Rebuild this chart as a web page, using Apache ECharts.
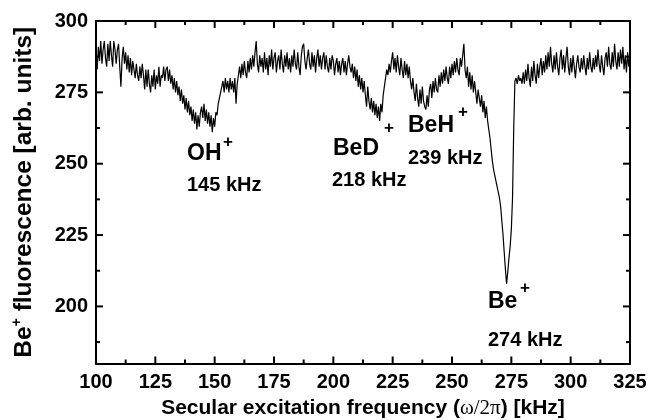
<!DOCTYPE html>
<html>
<head>
<meta charset="utf-8">
<script src="https://cdn.jsdelivr.net/npm/echarts@6/dist/echarts.min.js"></script>
<style>
	html, body { margin: 0; padding: 0; background: #fff; }
	#chart { width: 651px; height: 420px; }
</style>
</head>
<body>
<div id="chart"></div>
<script>
// scan: 100 .. 325 kHz in 0.5 kHz steps
var freqStart = 100,
	freqStep = 0.5;

// Be+ fluorescence, one row = 10 kHz
var fluorescence = [
	289, 283, 291, 286, 293, 285, 290, 293, 287, 284, 292, 286, 293, 288, 284, 293, 290, 285, 290, 292, // 100
	284, 277, 287, 291, 285, 289, 283, 288, 282, 287, 281, 286, 283, 280, 285, 281, 279, 284, 280, 285, // 110
	281, 276, 283, 277, 283, 278, 275, 281, 277, 283, 276, 281, 278, 284, 277, 281, 280, 284, 279, 283, // 120
	284, 279, 283, 278, 281, 276, 280, 275, 279, 274, 277, 272, 276, 271, 274, 269, 273, 268, 272, 267, // 130
	270, 265, 269, 264, 268, 262, 267, 263, 268, 270, 266, 271, 265, 269, 264, 268, 263, 267, 261, 266, // 140
	263, 268, 267, 271, 271, 275, 275, 279, 275, 280, 276, 279, 275, 280, 276, 279, 275, 280, 271, 278, // 150
	281, 284, 280, 285, 281, 286, 282, 280, 286, 282, 287, 283, 288, 284, 289, 293, 285, 282, 288, 284, // 160
	287, 282, 289, 283, 287, 281, 288, 284, 290, 283, 287, 289, 282, 286, 288, 283, 290, 285, 282, 288, // 170
	284, 289, 283, 287, 282, 288, 284, 290, 285, 283, 289, 284, 281, 288, 291, 292, 286, 283, 287, 290, // 180
	285, 283, 289, 284, 288, 282, 287, 290, 284, 288, 283, 287, 289, 283, 288, 284, 282, 287, 283, 288, // 190
	286, 281, 285, 287, 282, 286, 281, 285, 287, 282, 286, 281, 285, 288, 284, 282, 285, 280, 284, 279, // 200
	283, 277, 281, 276, 280, 275, 279, 274, 270, 277, 272, 269, 273, 268, 272, 267, 271, 266, 270, 265, // 210
	271, 268, 274, 277, 280, 283, 281, 285, 282, 286, 289, 283, 287, 282, 288, 284, 281, 287, 283, 280, // 220
	286, 281, 285, 280, 284, 279, 276, 280, 275, 272, 278, 273, 270, 276, 271, 277, 272, 270, 269, 274, // 230
	270, 276, 278, 273, 279, 275, 280, 276, 275, 281, 277, 282, 278, 283, 279, 284, 280, 278, 284, 280, // 240
	285, 281, 286, 282, 287, 283, 281, 287, 284, 288, 292, 283, 280, 284, 277, 282, 276, 281, 275, 279, // 250
	275, 271, 276, 273, 270, 274, 268, 272, 266, 270, 265, 262, 259, 255, 251, 248, 246, 244, 242, 240, // 260
	238, 235, 230, 225, 219, 213, 208, 212, 217, 221, 227, 238, 262, 279, 280, 278, 281, 279, 280, 278, // 270
	282, 278, 283, 279, 285, 280, 277, 284, 279, 286, 281, 278, 285, 280, 284, 287, 281, 286, 282, 288, // 280
	283, 289, 284, 291, 285, 282, 288, 283, 289, 284, 281, 287, 290, 283, 288, 282, 287, 291, 284, 281, // 290
	287, 282, 288, 284, 280, 285, 288, 284, 282, 287, 283, 288, 284, 281, 287, 283, 289, 284, 282, 287, // 300
	283, 288, 284, 290, 285, 282, 288, 284, 281, 287, 289, 284, 291, 285, 283, 289, 284, 292, 286, 283, // 310
	289, 284, 290, 285, 291, 283, 288, 282, 289, 284, 288                                               // 320
];

var xMajorTicks = [100, 125, 150, 175, 200, 225, 250, 275, 300, 325],
	xMinorTicks = [112.5, 137.5, 162.5, 187.5, 212.5, 237.5, 262.5, 287.5, 312.5],
	yLabelValues = [200, 225, 250, 275, 300],
	yMinorValues = [187.5, 212.5, 237.5, 262.5, 287.5];

var peakNames = ['OH', 'BeD', 'BeH', 'Be'],
	peakFreqs = ['145 kHz', '218 kHz', '239 kHz', '274 kHz'];

var font = "'Liberation Sans', Arial, sans-serif";

var points = [];
for (var i = 0; i < fluorescence.length; i++) {
	points.push([freqStart + i * freqStep, fluorescence[i]]);
}

var labelStyle = {
	margin: 9,
	color: '#000',
	fontFamily: font,
	fontWeight: 'bold',
	fontSize: 20
};

var xFrame = function(pos, labels){
	return {
		type: 'value', position: pos, min: 100, max: 325, interval: 25,
		axisLine: {show: true, onZero: false, lineStyle: {color: '#000', width: 2}},
		axisTick: {show: false},
		splitLine: {show: false},
		axisLabel: labels ? labelStyle : {show: false}
	};
};
var yFrame = function(pos, labels){
	var ax = {
		type: 'value', position: pos, min: 180, max: 300,
		axisLine: {show: true, onZero: false, lineStyle: {color: '#000', width: 2}},
		axisTick: {show: false},
		splitLine: {show: false},
		axisLabel: {show: false}
	};
	if (labels) {
		ax.axisLabel = Object.assign({customValues: yLabelValues}, labelStyle, {margin: 8});
	}
	return ax;
};

var xBottom = xFrame('bottom', true);
xBottom.name = '{t|Secular excitation frequency (}{g|ω/2π}{t|) [kHz]}';
xBottom.nameLocation = 'middle';
xBottom.nameGap = 34;
xBottom.nameTextStyle = {
	rich: {
		t: {fontFamily: font, fontWeight: 'bold', fontSize: 21, color: '#000'},
		g: {fontFamily: "'Liberation Serif', serif", fontSize: 21, color: '#000'}
	}
};

var yLeft = yFrame('left', true);
yLeft.name = '{b|Be}{s|+}{b| fluorescence [arb. units]}';
yLeft.nameLocation = 'middle';
yLeft.nameGap = 58;
yLeft.nameTextStyle = {
	rich: {
		b: {fontFamily: font, fontWeight: 'bold', fontSize: 24.5, color: '#000', lineHeight: 28},
		s: {fontFamily: font, fontWeight: 'bold', fontSize: 14, color: '#000', verticalAlign: 'top', lineHeight: 12}
	}
};

var noteText = function(str, x, y, size){
	return {
		type: 'text',
		x: x,
		y: y,
		z: 100,
		style: {
			text: str,
			fill: '#000',
			font: 'bold ' + size + 'px ' + font,
			textAlign: 'left',
			textVerticalAlign: 'middle',
			align: 'left',
			verticalAlign: 'middle'
		}
	};
};

var option = {
	animation: false,
	grid: {left: 96, right: 21, top: 21, bottom: 56.5, containLabel: false, outerBoundsMode: 'none'},
	xAxis: [xBottom, xFrame('top', false)],
	yAxis: [yLeft, yFrame('right', false)],
	series: [{
		type: 'line',
		xAxisIndex: 0,
		yAxisIndex: 0,
		data: points,
		showSymbol: false,
		symbol: 'none',
		lineStyle: {color: '#000', width: 1.2}
	}]
};

var myChart = echarts.init(document.getElementById('chart'));
myChart.setOption(option);

var graphics = [
	noteText(peakNames[0], 187, 154, 23),
	noteText('+', 223, 142, 17),
	noteText(peakFreqs[0], 187, 185, 20),
	noteText(peakNames[1], 333, 149, 23),
	noteText('+', 384, 128, 17),
	noteText(peakFreqs[1], 332, 180, 20),
	noteText(peakNames[2], 408, 126, 23),
	noteText('+', 458, 112, 17),
	noteText(peakFreqs[2], 408, 158, 20),
	noteText(peakNames[3], 488, 302, 23),
	noteText('+', 520, 288, 17),
	noteText(peakFreqs[3], 488, 340, 20)
];

// inward ticks on all four sides, placed through the axis scales
var tick = function(p, dx, dy){
	graphics.push({
		type: 'line',
		z: 100,
		shape: {x1: p[0], y1: p[1], x2: p[0] + dx, y2: p[1] + dy},
		style: {stroke: '#000', lineWidth: 2}
	});
};
var toPx = function(v){
	return myChart.convertToPixel({xAxisIndex: 0, yAxisIndex: 0}, v);
};
xMajorTicks.forEach(function(v){ tick(toPx([v, 180]), 0, -7); tick(toPx([v, 300]), 0, 7); });
xMinorTicks.forEach(function(v){ tick(toPx([v, 180]), 0, -4); tick(toPx([v, 300]), 0, 4); });
yLabelValues.forEach(function(v){ tick(toPx([100, v]), 7, 0); tick(toPx([325, v]), -7, 0); });
yMinorValues.forEach(function(v){ tick(toPx([100, v]), 4, 0); tick(toPx([325, v]), -4, 0); });

myChart.setOption({graphic: graphics});
</script>
</body>
</html>
